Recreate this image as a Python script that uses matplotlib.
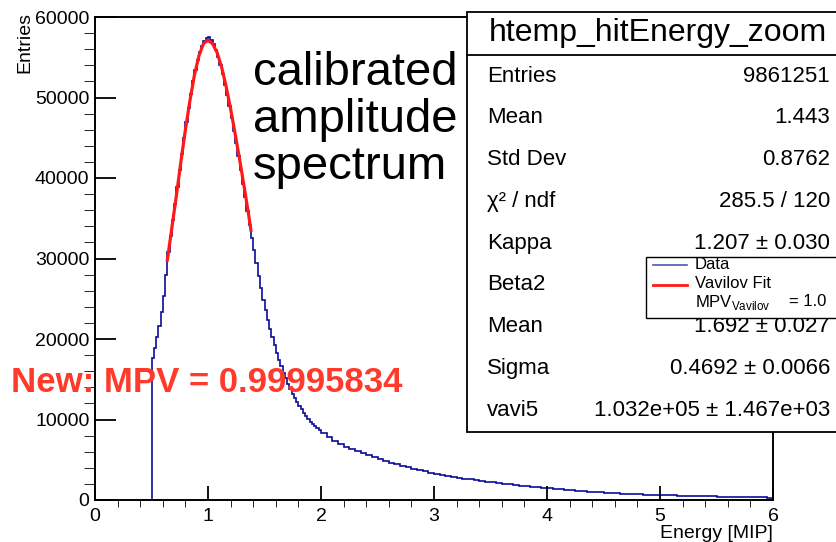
import numpy as np
import matplotlib
matplotlib.use("Agg")
import matplotlib.pyplot as plt
from matplotlib.patches import Rectangle
from matplotlib.lines import Line2D

plt.rcParams['font.family'] = ['Liberation Sans', 'DejaVu Sans']
plt.rcParams['mathtext.fontset'] = 'custom'
plt.rcParams['mathtext.rm'] = 'Liberation Sans'

# histogram of calibrated hit energy
# peak region: bins of 0.02 MIP from 0.5 to 2.0
counts_peak = [
    17600, 18900, 20200, 21600, 23300, 25300, 28000, 30800, 32800, 34800,
    36800, 38900, 41000, 43000, 45000, 46900, 48700, 50400, 52000, 53400,
    54600, 55600, 56400, 57000, 57400, 57500, 57200, 56700, 55900, 55000,
    54000, 52900, 51600, 50300, 48900, 47400, 45900, 44300, 42700, 41000,
    39300, 37600, 35900, 34200, 32600, 31000, 29400, 27800, 26300, 24900,
    23600, 22400, 21300, 20200, 19200, 18300, 17400, 16600, 15800, 15100,
    14400, 13800, 13200, 12700, 12200, 11700, 11250, 10850, 10450, 10100,
    9750, 9450, 9150, 8900, 8650,
]
# tail: bins of 0.05 MIP from 2.0 to 6.0
counts_tail = [
    8300, 7800, 7350, 6950, 6600, 6300, 6050, 5800, 5550, 5300,
    5050, 4850, 4620, 4420, 4230, 4050, 3880, 3720, 3560, 3400,
    3260, 3130, 3000, 2880, 2770, 2660, 2560, 2460, 2370, 2280,
    2180, 2090, 2010, 1930, 1850, 1770, 1700, 1630, 1560, 1490,
    1430, 1370, 1310, 1250, 1200, 1150, 1100, 1050, 1000, 955,
    915, 875, 840, 805, 770, 740, 710, 680, 655, 630,
    605, 585, 565, 545, 525, 510, 490, 475, 460, 445,
    430, 420, 410, 395, 380, 365, 350, 335, 320, 300,
]

# Vavilov fit curve
fit_x = [0.64, 0.68, 0.72, 0.76, 0.80, 0.84, 0.88, 0.92, 0.96, 1.00,
         1.04, 1.08, 1.12, 1.16, 1.20, 1.24, 1.28, 1.32, 1.36, 1.38]
fit_y = [29800, 33800, 37800, 42000, 46000, 49600, 52800, 55200, 56700, 57100,
         56700, 55600, 53800, 51400, 48600, 45500, 42300, 38900, 35400, 33500]

stat_names = ['Entries', 'Mean', 'Std Dev', 'χ² / ndf', 'Kappa', 'Beta2',
              'Mean', 'Sigma', 'vavi5']
stat_values = ['9861251', '1.443', '0.8762', '285.5 / 120', '1.207 ± 0.030', '',
               '1.692 ± 0.027', '0.4692 ± 0.0066', '1.032e+05 ± 1.467e+03']

W, H = 836, 542
fig = plt.figure(figsize=(W / 100, H / 100), dpi=100)
ax = fig.add_axes([95 / W, 1 - 500 / H, 678 / W, 483 / H])


def fx(px):
    return px / W


def fy(py):
    return 1 - py / H


edges = np.concatenate([np.linspace(0.5, 2.0, len(counts_peak) + 1)[:-1],
                        np.linspace(2.0, 6.0, len(counts_tail) + 1)])
counts = counts_peak + counts_tail
ax.stairs(counts, edges, baseline=0, color='#0a0a9a', lw=1.2)
ax.plot(fit_x, fit_y, color='#ff1a1a', lw=2.3)

ax.set_xlim(0, 6)
ax.set_ylim(0, 60000)
ax.set_xticks(range(7))
ax.set_xticks(np.arange(0, 6.01, 0.2), minor=True)
ax.set_yticks(range(0, 60001, 10000))
ax.set_yticks(range(0, 60001, 2000), minor=True)
ax.tick_params(direction='in', labelsize=14, width=1.3, colors='black')
ax.tick_params(axis='y', which='major', length=15, pad=4)
ax.tick_params(axis='y', which='minor', length=8)
ax.tick_params(axis='x', which='major', length=10, pad=6)
ax.tick_params(axis='x', which='minor', length=5)
for s in ax.spines.values():
    s.set_linewidth(1.4)

fig.text(fx(25), fy(12), 'Entries', rotation=90, ha='center', va='top', fontsize=14)
fig.text(fx(773), fy(534), 'Energy [MIP]', ha='right', va='center', fontsize=14)

fig.text(fx(253), fy(120), 'calibrated\namplitude\nspectrum', ha='left', va='center',
         fontsize=34, linespacing=1.1)
fig.text(fx(11), fy(382), 'New: MPV = 0.99995834', ha='left', va='center',
         fontsize=25, fontweight='bold', color='#ff3a2a')

# stats box
fig.add_artist(Rectangle((fx(467), fy(432)), fx(860 - 467), (432 - 12) / H,
                         transform=fig.transFigure, facecolor='white',
                         edgecolor='black', lw=1.3, zorder=5, clip_on=False))
fig.add_artist(Line2D([fx(467), fx(860)], [fy(55), fy(55)], transform=fig.transFigure,
                      color='black', lw=1.3, zorder=6))
fig.text(fx(658), fy(33), 'htemp_hitEnergy_zoom', ha='center', va='center',
         fontsize=23, zorder=7)
for i, (name, val) in enumerate(zip(stat_names, stat_values)):
    yy = 76 + i * 41.8
    fig.text(fx(487), fy(yy), name, ha='left', va='center', fontsize=16, zorder=7)
    if val:
        fig.text(fx(830), fy(yy), val, ha='right', va='center', fontsize=16, zorder=7)

# legend
fig.add_artist(Rectangle((fx(646), fy(318)), fx(860 - 646), (318 - 257) / H,
                         transform=fig.transFigure, facecolor='white',
                         edgecolor='black', lw=1.0, zorder=8, clip_on=False))
fig.add_artist(Line2D([fx(653), fx(687)], [fy(265), fy(265)], transform=fig.transFigure,
                      color='#4a56b0', lw=1.2, zorder=9))
fig.add_artist(Line2D([fx(653), fx(687)], [fy(285), fy(285)], transform=fig.transFigure,
                      color='#ff1a1a', lw=2.0, zorder=9))
fig.text(fx(695), fy(264), 'Data', ha='left', va='center', fontsize=12, zorder=9)
fig.text(fx(695), fy(284), 'Vavilov Fit', ha='left', va='center', fontsize=12, zorder=9)
fig.text(fx(695), fy(302), r'MPV$_{\mathregular{Vavilov}}$', ha='left', va='center',
         fontsize=12, zorder=9)
fig.text(fx(826), fy(302), '= 1.0', ha='right', va='center', fontsize=12, zorder=9)

fig.savefig('out.png', dpi=100)
